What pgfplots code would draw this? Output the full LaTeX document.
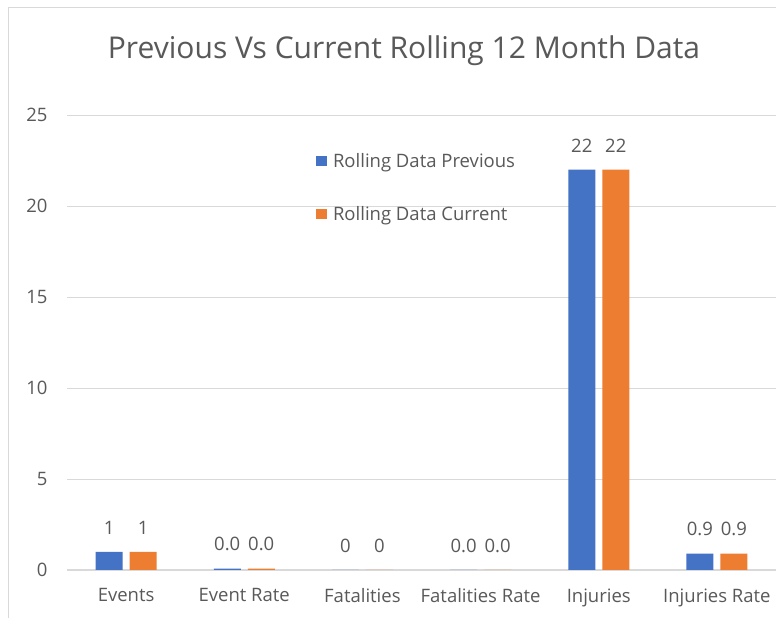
\documentclass[border=0pt]{standalone}
\usepackage{pgfplots}
\pgfplotsset{compat=1.18}
\usepackage{pgfplotstable}
\usepackage{fontspec}
\setmainfont{Open Sans}
\definecolor{xblue}{HTML}{4472C4}
\definecolor{xorange}{HTML}{ED7D31}
\definecolor{xtext}{HTML}{595959}
\definecolor{xgrid}{HTML}{D9D9D9}
\pgfplotstableread{
x y lab
0 1 1
1 0.08 0.0
2 0 0
3 0 0.0
4 22 22
5 0.9 0.9
}\prevdata
\pgfplotstableread{
x y lab
0 1 1
1 0.08 0.0
2 0 0
3 0 0.0
4 22 22
5 0.9 0.9
}\currdata
\begin{document}
\begin{tikzpicture}[x=1pt,y=1pt]
\useasboundingbox (0,0) rectangle (776,618);
\fill[white] (0,0) rectangle (776,618);
\draw[xgrid, line width=1pt] (8,0) -- (8,610) -- (776,610);
\node[text=xtext, font=\fontsize{30}{36}\selectfont] at (404,567) {Previous Vs Current Rolling 12 Month Data};
\begin{axis}[
  at={(67pt,48pt)}, anchor=south west,
  scale only axis, width=709pt, height=455pt,
  xmin=-0.5, xmax=5.5, ymin=0, ymax=25,
  ytick={0,5,10,15,20,25},
  xtick=data,
  xticklabels={Events,Event Rate,Fatalities,Fatalities Rate,Injuries,Injuries Rate},
  ymajorgrids, grid style={xgrid, line width=0.8pt},
  axis x line*=bottom, axis y line*=left,
  x axis line style={xgrid, line width=1pt, -},
  y axis line style={draw=none},
  major tick length=0pt,
  tick label style={text=xtext, font=\fontsize{18.5}{22}\selectfont},
  /pgf/number format/assume math mode=true,
  yticklabel style={xshift=-16pt},
  xticklabel style={yshift=-15pt},
  ybar=7pt, bar width=27pt,
  nodes near coords,
  point meta=explicit symbolic,
  every node near coord/.append style={text=xtext, font=\fontsize{18.5}{22}\selectfont, yshift=14pt},
  legend style={at={(rel axis cs:0.351,0.92)}, anchor=north west, draw=none, fill=none,
    text=xtext, font=\fontsize{18.5}{22}\selectfont, row sep=33pt, inner sep=0pt,
    legend cell align=left},
  legend image code/.code={\fill[#1] (0pt,-5pt) rectangle (11pt,5pt);},
  legend style={nodes={inner xsep=6pt}},
]
\addplot[fill=xblue, draw=none] table[x=x, y=y, meta=lab] {\prevdata};
\addplot[fill=xorange, draw=none] table[x=x, y=y, meta=lab] {\currdata};
\legend{Rolling Data Previous, Rolling Data Current}
\end{axis}
\end{tikzpicture}
\end{document}
